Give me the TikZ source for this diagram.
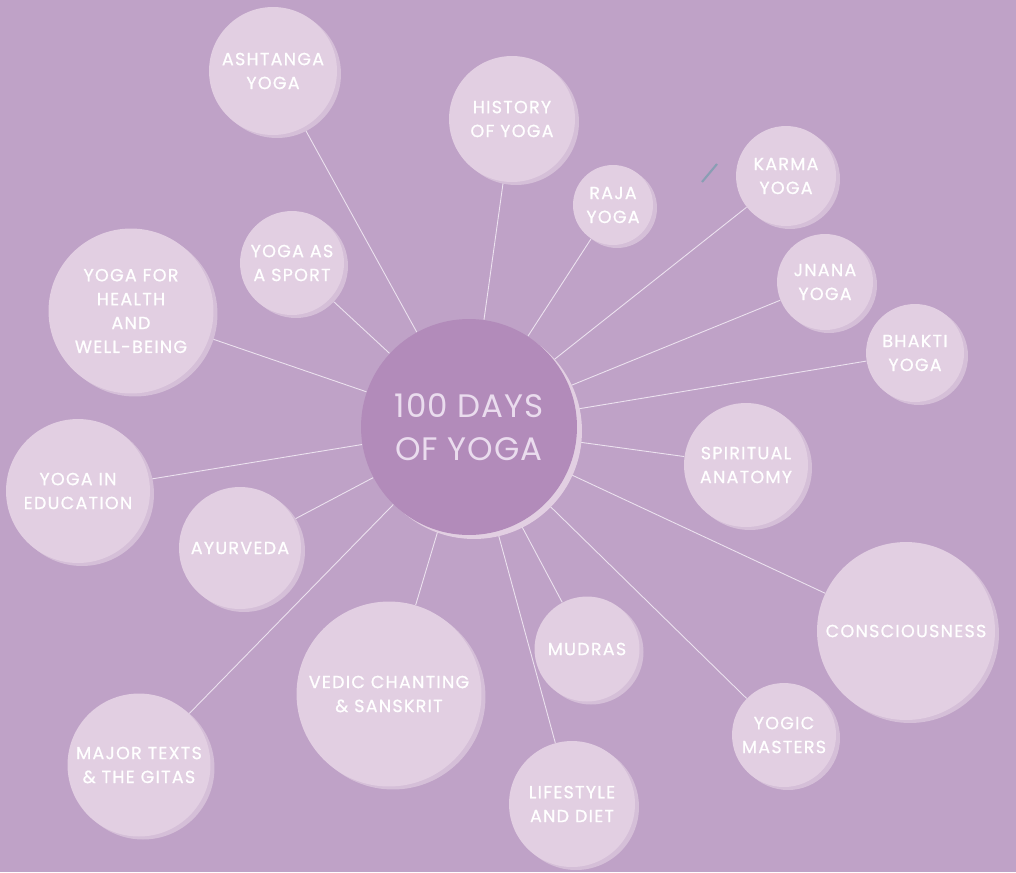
\documentclass[tikz,border=0pt]{standalone}
\usepackage{fontspec}
\setmainfont{Poppins}
\newfontfamily\topicfont{Poppins}[LetterSpace=7, FakeBold=0.8]
\newfontfamily\hubfont{Poppins}[LetterSpace=3]
\usetikzlibrary{shadows,backgrounds}
\definecolor{bgLilac}{RGB}{191,162,199}
\definecolor{topicFill}{RGB}{226,207,226}
\definecolor{topicShade}{RGB}{213,191,216}
\definecolor{hubFill}{RGB}{178,139,186}
\definecolor{hubText}{RGB}{234,220,238}
\definecolor{spokeColor}{RGB}{236,226,239}
\definecolor{strayColor}{RGB}{138,158,180}

\begin{document}
\begin{tikzpicture}[x=0.02cm, y=-0.02cm]
	\tikzstyle{topic} = [circle, inner sep=0pt, fill=topicFill, text=white, align=center, font=\topicfont\fontsize{10}{13.6}\selectfont, general shadow={fill=topicShade, shadow xshift=0.08cm, shadow yshift=-0.06cm}]
	\tikzstyle{hub} = [circle, inner sep=0pt, minimum size=4.32cm, fill=hubFill, text=hubText, align=center, font=\hubfont\fontsize{18.5}{24.5}\selectfont, general shadow={fill=topicFill, shadow xshift=0.1cm, shadow yshift=-0.08cm}]
	\tikzstyle{spoke} = [draw=spokeColor, line width=0.5pt]
	\begin{pgfonlayer}{background}
		\fill[bgLilac] (0,0) rectangle (1016,872);
	\end{pgfonlayer}
	\node[hub] (hub) at (469,427) {100 DAYS\\OF YOGA};
	\node[topic, minimum size=2.56cm] (ashtanga) at (273,71) {ASHTANGA\\YOGA};
	\node[topic, minimum size=2.52cm] (history) at (512,119) {HISTORY\\OF YOGA};
	\node[topic, minimum size=1.6cm] (raja) at (613,205) {RAJA\\YOGA};
	\node[topic, minimum size=2.0cm] (karma) at (786,176) {KARMA\\YOGA};
	\node[topic, minimum size=1.92cm] (jnana) at (825,282) {JNANA\\YOGA};
	\node[topic, minimum size=1.96cm] (bhakti) at (915,353) {BHAKTI\\YOGA};
	\node[topic, minimum size=2.48cm] (anatomy) at (746,465) {SPIRITUAL\\ANATOMY};
	\node[topic, minimum size=3.56cm] (conscious) at (906,631) {CONSCIOUSNESS};
	\node[topic, minimum size=2.08cm] (masters) at (784,735) {YOGIC\\MASTERS};
	\node[topic, minimum size=2.1cm] (mudras) at (587,649) {MUDRAS};
	\node[topic, minimum size=2.52cm] (lifestyle) at (572,804) {LIFESTYLE\\AND DIET};
	\node[topic, minimum size=3.7cm] (vedic) at (389,694) {VEDIC CHANTING\\\& SANSKRIT};
	\node[topic, minimum size=2.86cm] (texts) at (139,765) {MAJOR TEXTS\\\& THE GITAS};
	\node[topic, minimum size=2.44cm] (ayurveda) at (240,548) {AYURVEDA};
	\node[topic, minimum size=2.88cm] (education) at (78,491) {YOGA IN\\EDUCATION};
	\node[topic, minimum size=3.3cm] (health) at (131,311) {YOGA FOR\\HEALTH\\AND\\WELL-BEING};
	\node[topic, minimum size=2.08cm] (sport) at (292,263) {YOGA AS\\A SPORT};
	\coordinate (strayA) at (702,182);
	\coordinate (strayB) at (717,164);
	\begin{pgfonlayer}{background}
		\foreach \leaf in {ashtanga, history, raja, karma, jnana, bhakti, anatomy, conscious, masters, mudras, lifestyle, vedic, texts, ayurveda, education, health, sport}
			\draw[spoke] (hub) -- (\leaf);
		\draw[strayColor, line width=1.2pt] (strayA) -- (strayB);
	\end{pgfonlayer}
\end{tikzpicture}
\end{document}
